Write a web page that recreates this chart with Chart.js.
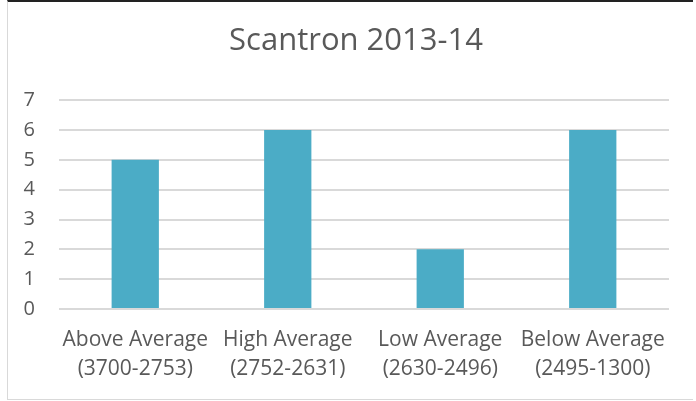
<!DOCTYPE html>
<html>
<head>
<meta charset="utf-8">
<script src="https://cdn.jsdelivr.net/npm/chart.js@4.4.1/dist/chart.umd.min.js"></script>
<style>
  html, body { margin: 0; padding: 0; background: #fff; }
  #wrap { position: relative; width: 696px; height: 401px; }
  #frame {
    position: absolute; left: 7px; top: 0; width: 686px; height: 400px;
    border-left: 1px solid #d9d9d9; border-bottom: 1px solid #d9d9d9;
    border-top: 2px solid #222; box-sizing: border-box; pointer-events: none;
  }
  canvas { position: absolute; left: 0; top: 0; }
</style>
</head>
<body>
<div id="wrap">
  <canvas id="scantronChart" width="696" height="401"></canvas>
  <div id="frame"></div>
</div>
<script>
const categories = [
  ['Above Average', '(3700-2753)'],
  ['High Average', '(2752-2631)'],
  ['Low Average', '(2630-2496)'],
  ['Below Average', '(2495-1300)']
];
const studentCounts = [5, 6, 2, 6];
const yTicks = [0, 1, 2, 3, 4, 5, 6, 7];

const textColor = '#595959';
const fontFamily = '"Open Sans", "Liberation Sans", sans-serif';

// Excel centres the title a bit right of the canvas middle
const shiftTitle = {
  id: 'shiftTitle',
  afterLayout(chart) {
    const t = chart.titleBlock;
    if (t) {
      t.left = 43;
      t.right = 669;
    }
  }
};

const ctx = document.getElementById('scantronChart');

new Chart(ctx, {
  type: 'bar',
  data: {
    labels: categories,
    datasets: [{
      label: 'Students',
      data: studentCounts,
      backgroundColor: '#4bacc6',
      borderWidth: 0,
      barPercentage: 0.31,
      categoryPercentage: 1
    }]
  },
  options: {
    responsive: false,
    animation: false,
    layout: {
      padding: { left: 0, right: 27, top: 0, bottom: 6 }
    },
    plugins: {
      legend: { display: false },
      tooltip: { enabled: false },
      title: {
        display: true,
        text: 'Scantron 2013-14',
        color: textColor,
        font: { family: fontFamily, size: 31, weight: 'normal', lineHeight: 1.2 },
        padding: { top: 23, bottom: 40 }
      }
    },
    scales: {
      x: {
        grid: { display: false, drawTicks: false },
        border: { display: false },
        ticks: {
          color: textColor,
          font: { family: fontFamily, size: 21, lineHeight: 1.38 },
          padding: 17,
          maxRotation: 0,
          autoSkip: false
        },
        afterFit: scale => { scale.height = 86; }
      },
      y: {
        min: 0,
        max: 7,
        afterBuildTicks: scale => {
          scale.ticks = yTicks.map(v => ({ value: v }));
        },
        grid: { color: '#d9d9d9', lineWidth: 2, drawTicks: false },
        border: { display: false },
        ticks: {
          color: textColor,
          font: { family: fontFamily, size: 20 },
          padding: 24
        },
        afterFit: scale => { scale.width = 59; }
      }
    }
  },
  plugins: [shiftTitle]
});
</script>
</body>
</html>
